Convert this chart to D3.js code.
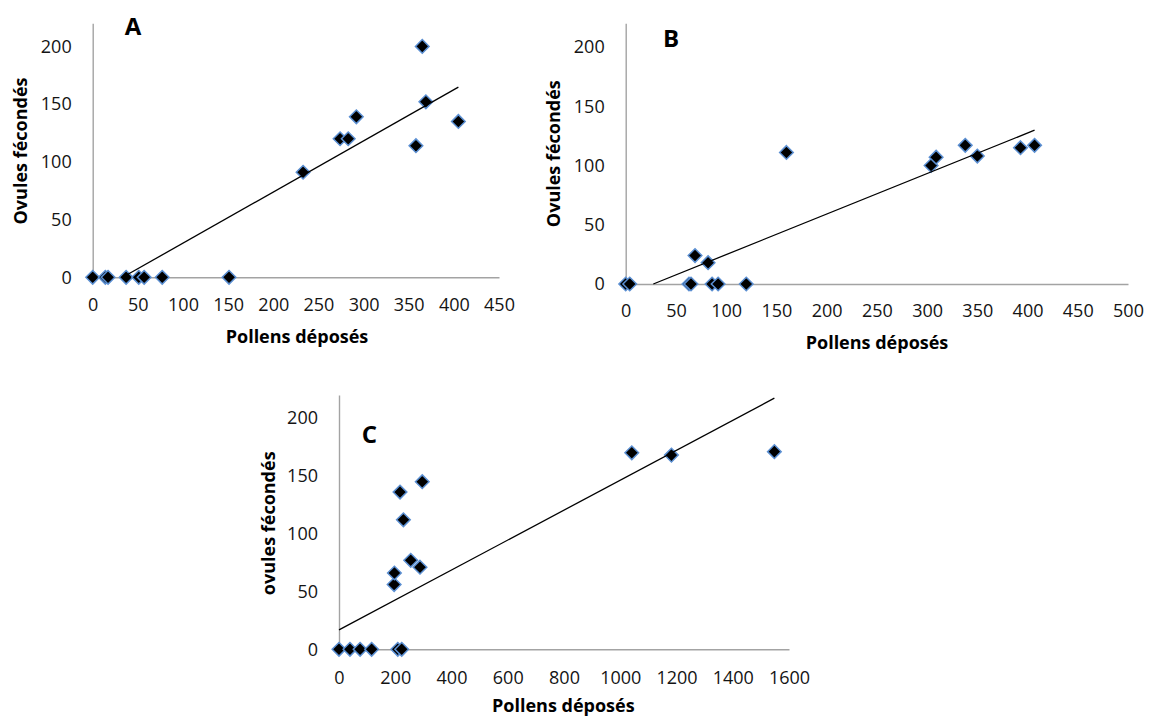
<!DOCTYPE html>
<meta charset="utf-8">
<style>
  body { margin: 0; background: #fff; }
  text { font-family: "Open Sans", "DejaVu Sans", sans-serif; }
</style>
<body>
<script src="https://d3js.org/d3.v7.min.js"></script>
<script>

// ---- data ----
// panel A
var xA = [0, 14, 17, 37, 51, 57, 77, 151, 233, 274, 283, 292, 365, 358, 369, 405];
var yA = [0, 0, 0, 0, 0, 0, 0, 0, 91, 120, 120, 139, 200, 114, 152, 135];
var trendA = [0.443, -14.7];   // slope, intercept
var xTicksA = [0, 50, 100, 150, 200, 250, 300, 350, 400, 450];

// panel B
var xB = [0, 4, 63, 65, 69, 82, 86, 92, 120, 160, 304, 309, 338, 350, 393, 407];
var yB = [0, 0, 0, 0, 24, 18, 0, 0, 0, 111, 100, 107, 117, 108, 115, 117];
var trendB = [0.342, -9.4];
var xTicksB = [0, 50, 100, 150, 200, 250, 300, 350, 400, 450, 500];

// panel C
var xC = [0, 39, 75, 116, 209, 223, 196, 197, 217, 229, 255, 288, 296, 1041, 1182, 1548];
var yC = [0, 0, 0, 0, 0, 0, 56, 66, 136, 112, 77, 71, 145, 170, 168, 171];
var trendC = [0.1295, 16.8];
var xTicksC = [0, 200, 400, 600, 800, 1000, 1200, 1400, 1600];

var yTicks = [0, 50, 100, 150, 200];
var yMax = 220;

var panels = [
  { name: "A", xs: xA, ys: yA, trend: trendA, xTicks: xTicksA,
    left: 92.7, right: 499, top: 23.3, bottom: 277.3, xPad: 21,
    yTitle: "Ovules fécondés", letter: [133, 35], yT: [20, 151], xT: [297, 336] },
  { name: "B", xs: xB, ys: yB, trend: trendB, xTicks: xTicksB,
    left: 625.7, right: 1128, top: 23.3, bottom: 284, xPad: 20,
    yTitle: "Ovules fécondés", letter: [671, 46.7], yT: [553.3, 153.7], xT: [877, 341.7] },
  { name: "C", xs: xC, ys: yC, trend: trendC, xTicks: xTicksC,
    left: 339, right: 789, top: 395, bottom: 649.3, xPad: 22,
    yTitle: "ovules fécondés", letter: [369.5, 443.3], yT: [268.3, 523.3], xT: [563.3, 705] }
];

var svg = d3.select("body").append("svg")
    .attr("width", 1149)
    .attr("height", 718);

var diamond = "M0,-6.8L6.8,0L0,6.8L-6.8,0Z";

panels.forEach(function (p) {
  var xMax = p.xTicks[p.xTicks.length - 1];
  var x = d3.scaleLinear().domain([0, xMax]).range([p.left, p.right]);
  var y = d3.scaleLinear().domain([0, yMax]).range([p.bottom, p.top]);

  var g = svg.append("g");

  // axes
  var ya = g.append("g")
      .attr("transform", "translate(" + p.left + ",0)")
      .call(d3.axisLeft(y).tickValues(yTicks).tickFormat(d3.format("d"))
        .tickSize(0).tickPadding(21));
  var xa = g.append("g")
      .attr("transform", "translate(0," + p.bottom + ")")
      .call(d3.axisBottom(x).tickValues(p.xTicks).tickFormat(d3.format("d"))
        .tickSize(0).tickPadding(p.xPad));

  [ya, xa].forEach(function (a) {
    a.attr("font-size", null).attr("font-family", null);
    a.select(".domain").attr("stroke", "#a3a3a3").attr("stroke-width", 1.4);
    a.selectAll("text")
      .style("font-family", "'Open Sans', sans-serif")
      .style("font-size", "18px")
      .attr("fill", "#141414");
  });

  // points
  var pts = p.xs.map(function (v, i) { return { x: v, y: p.ys[i] }; });
  g.selectAll(".dot")
      .data(pts)
    .enter().append("path")
      .attr("class", "dot")
      .attr("d", diamond)
      .attr("transform", function (d) { return "translate(" + x(d.x) + "," + y(d.y) + ")"; })
      .attr("fill", "#000")
      .attr("stroke", "#5b8fd2")
      .attr("stroke-width", 1.5);

  // trendline, clipped to the plot area like the spreadsheet does
  var m = p.trend[0], b = p.trend[1];
  var x0 = d3.max([0, b < 0 ? -b / m : 0]);
  var x1 = d3.max(p.xs);
  g.append("line")
      .attr("x1", x(x0)).attr("y1", y(m * x0 + b))
      .attr("x2", x(x1)).attr("y2", y(m * x1 + b))
      .attr("stroke", "#000")
      .attr("stroke-width", 1.3);

  // titles
  g.append("text")
      .attr("transform", "translate(" + p.yT[0] + "," + p.yT[1] + ") rotate(-90)")
      .attr("text-anchor", "middle")
      .attr("dominant-baseline", "central")
      .style("font-size", "18px")
      .attr("font-weight", 700)
      .text(p.yTitle);
  g.append("text")
      .attr("x", p.xT[0]).attr("y", p.xT[1])
      .attr("text-anchor", "middle")
      .attr("dominant-baseline", "central")
      .style("font-size", "18px")
      .attr("font-weight", 700)
      .text("Pollens déposés");
  g.append("text")
      .attr("x", p.letter[0]).attr("y", p.letter[1])
      .attr("text-anchor", "middle")
      .style("font-size", "24px")
      .attr("font-weight", 700)
      .text(p.name);
});

</script>
</body>
